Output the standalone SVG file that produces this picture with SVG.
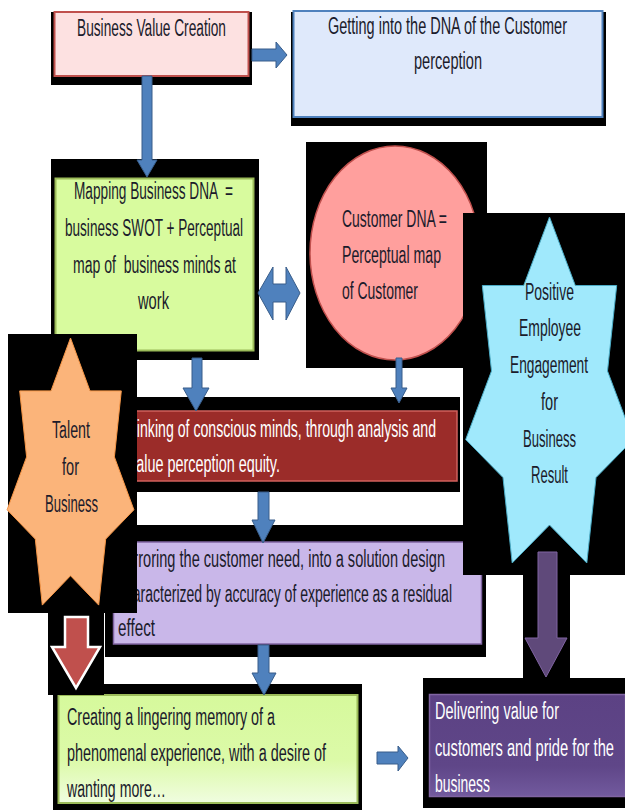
<svg xmlns="http://www.w3.org/2000/svg" width="625" height="811" viewBox="0 0 625 811">
<defs>
<linearGradient id="gGreen" x1="0" y1="0" x2="0" y2="1"><stop offset="0" stop-color="#d6f99c"/><stop offset="0.6" stop-color="#dcfaa8"/><stop offset="1" stop-color="#f0fde0"/></linearGradient>
<linearGradient id="gPurple" x1="0" y1="0" x2="0" y2="1"><stop offset="0" stop-color="#5c4284"/><stop offset="0.7" stop-color="#5f4688"/><stop offset="1" stop-color="#725a9e"/></linearGradient>
</defs>
<style>
.bg{fill:#000}
.t{font-family:"Liberation Sans",Arial,sans-serif;font-size:23px;fill:#1b1b2b}
.w{fill:#fff}
.arr{fill:#4f81bd;stroke:#385d8a;stroke-width:1}
</style>
<rect width="625" height="811" fill="#fff"/>

<g id="node-business-value">
<rect class="bg" x="51" y="12" width="201" height="73"/>
<rect x="54.5" y="12" width="194" height="64" fill="#fde1e1" stroke="#c0504d" stroke-width="2"/>
<text class="t" x="77" y="36" textLength="149" lengthAdjust="spacingAndGlyphs">Business Value Creation</text>
</g>

<g id="node-customer-perception">
<rect class="bg" x="291" y="12" width="315" height="114"/>
<rect x="293.5" y="11" width="309" height="106" fill="#dfe9fb" stroke="#4f81bd" stroke-width="2"/>
<text class="t" x="328" y="34" textLength="239" lengthAdjust="spacingAndGlyphs">Getting into the DNA of the Customer</text>
<text class="t" x="414" y="69" textLength="68" lengthAdjust="spacingAndGlyphs">perception</text>
</g>

<g id="node-mapping">
<rect class="bg" x="51" y="159" width="208" height="201"/>
<rect x="55.5" y="178.5" width="198" height="172" fill="#d8fb9e" stroke="#9bbb59" stroke-width="2"/>
<text class="t" x="74" y="199" textLength="159" lengthAdjust="spacingAndGlyphs" xml:space="preserve">Mapping Business DNA  =</text>
<text class="t" x="65" y="236" textLength="178" lengthAdjust="spacingAndGlyphs">business SWOT + Perceptual</text>
<text class="t" x="73" y="273" textLength="163" lengthAdjust="spacingAndGlyphs" xml:space="preserve">map of  business minds at</text>
<text class="t" x="138" y="309" textLength="31" lengthAdjust="spacingAndGlyphs">work</text>
</g>

<g id="node-customer-dna">
<rect class="bg" x="306" y="142" width="181" height="226"/>
<ellipse cx="395" cy="253" rx="85" ry="107" fill="#ff9f9d" stroke="#c0504d" stroke-width="1.5"/>
<text class="t" x="342" y="227" textLength="105" lengthAdjust="spacingAndGlyphs">Customer DNA =</text>
<text class="t" x="342" y="263" textLength="99" lengthAdjust="spacingAndGlyphs">Perceptual map</text>
<text class="t" x="342" y="299" textLength="76" lengthAdjust="spacingAndGlyphs">of Customer</text>
</g>

<g id="node-linking">
<rect class="bg" x="110" y="397" width="350" height="95"/>
<rect x="118" y="411" width="339" height="70" fill="#9b2c29" stroke="#d0605c" stroke-width="1.5"/>
<text class="t w" x="129" y="437" textLength="307" lengthAdjust="spacingAndGlyphs">Linking of conscious minds, through analysis and</text>
<text class="t w" x="129" y="472" textLength="151" lengthAdjust="spacingAndGlyphs">value perception equity.</text>
</g>

<g id="node-mirroring">
<rect class="bg" x="105" y="525" width="381" height="132"/>
<rect x="113.5" y="542" width="368" height="102" fill="#c9b7e9" stroke="#8064a2" stroke-width="1.5"/>
<text class="t" x="118" y="567" textLength="327" lengthAdjust="spacingAndGlyphs">Mirroring the customer need, into a solution design</text>
<text class="t" x="118" y="602" textLength="334" lengthAdjust="spacingAndGlyphs">characterized by accuracy of experience as a residual</text>
<text class="t" x="118" y="636" textLength="37" lengthAdjust="spacingAndGlyphs">effect</text>
</g>

<g id="node-creating">
<rect class="bg" x="53" y="684" width="309" height="126"/>
<rect x="58.5" y="695" width="299" height="108" fill="url(#gGreen)" stroke="#9bbb59" stroke-width="2"/>
<text class="t" x="67" y="725" textLength="208" lengthAdjust="spacingAndGlyphs">Creating a lingering memory of a</text>
<text class="t" x="67" y="761" textLength="259" lengthAdjust="spacingAndGlyphs">phenomenal experience, with a desire of</text>
<text class="t" x="67" y="797" textLength="99" lengthAdjust="spacingAndGlyphs">wanting more…</text>
</g>

<g id="node-delivering">
<rect class="bg" x="423" y="678" width="202" height="130"/>
<rect x="429.5" y="694.5" width="196" height="102" fill="url(#gPurple)" stroke="#8064a2" stroke-width="1.5"/>
<text class="t w" x="435" y="719" textLength="124" lengthAdjust="spacingAndGlyphs">Delivering value for</text>
<text class="t w" x="435" y="756" textLength="179" lengthAdjust="spacingAndGlyphs">customers and pride for the</text>
<text class="t w" x="435" y="792" textLength="55" lengthAdjust="spacingAndGlyphs">business</text>
</g>

<g id="node-positive-engagement">
<rect class="bg" x="463" y="213" width="162" height="362"/>
<path d="M549.5,217 L575.3,285.5 L616.7,285.5 L607.5,371 L633.3,439.5 L596,477.6 L586.8,563 L549.5,525 L512.2,563 L503,477.6 L465.7,439.5 L491.5,371 L482.3,285.5 L523.7,285.5 Z" fill="#a0e9fc" stroke="#4bacc6" stroke-width="1"/>
<text class="t" x="525" y="300" textLength="49" lengthAdjust="spacingAndGlyphs">Positive</text>
<text class="t" x="519" y="336" textLength="62" lengthAdjust="spacingAndGlyphs">Employee</text>
<text class="t" x="510" y="373" textLength="78" lengthAdjust="spacingAndGlyphs">Engagement</text>
<text class="t" x="541" y="410" textLength="17" lengthAdjust="spacingAndGlyphs">for</text>
<text class="t" x="523" y="447" textLength="53" lengthAdjust="spacingAndGlyphs">Business</text>
<text class="t" x="531" y="483" textLength="37" lengthAdjust="spacingAndGlyphs">Result</text>
</g>

<g id="node-talent">
<rect class="bg" x="8" y="334" width="129" height="279"/>
<path d="M70.5,338 L90,390.9 L121.3,390.9 L114.4,456.9 L133.9,509.8 L105.7,539.1 L98.7,605.1 L70.5,575.7 L42.3,605.1 L35.3,539.1 L7.1,509.8 L26.6,456.9 L19.7,390.9 L51,390.9 Z" fill="#fbb47a" stroke="#f79646" stroke-width="1"/>
<text class="t" x="52" y="438" textLength="38" lengthAdjust="spacingAndGlyphs">Talent</text>
<text class="t" x="62" y="475" textLength="17" lengthAdjust="spacingAndGlyphs">for</text>
<text class="t" x="45" y="512" textLength="53" lengthAdjust="spacingAndGlyphs">Business</text>
</g>

<g id="connectors">
<rect class="bg" x="48" y="613" width="56" height="82"/>
<rect class="bg" x="523" y="575" width="47" height="103"/>
<path class="arr" d="M252,49 H276 V42 L287,55 L276,68 V61 H252 Z"/>
<path class="arr" d="M142,76 H152 V160 H157 L147,177 L137,160 H142 Z"/>
<path class="arr" d="M258,293 L273,267 V284 H286 V267 L300,293 L286,320 V302 H273 V320 Z"/>
<path class="arr" d="M192,358 H202 V388 H209 L196,411 L183,388 H192 Z"/>
<path class="arr" d="M396,358 H402 V388 H407 L399,403 L391,388 H396 Z"/>
<path class="arr" d="M258,492 H269 V520 H275 L263,543 L252,520 H258 Z"/>
<path class="arr" d="M258,645 H269 V673 H276 L264,695 L252,673 H258 Z"/>
<path class="arr" d="M377,752 H398 V746 L408,758 L398,771 V764 H377 Z"/>
<path d="M538,552 H557 V638 H567 L546,677 L525,638 H538 Z" fill="#5f497a" stroke="#8064a2" stroke-width="1"/>
<path d="M65,617 H88 V647 H100 L76,688 L52,647 H65 Z" fill="#c0504d" stroke="#fff" stroke-width="2.5"/>
</g>
</svg>
